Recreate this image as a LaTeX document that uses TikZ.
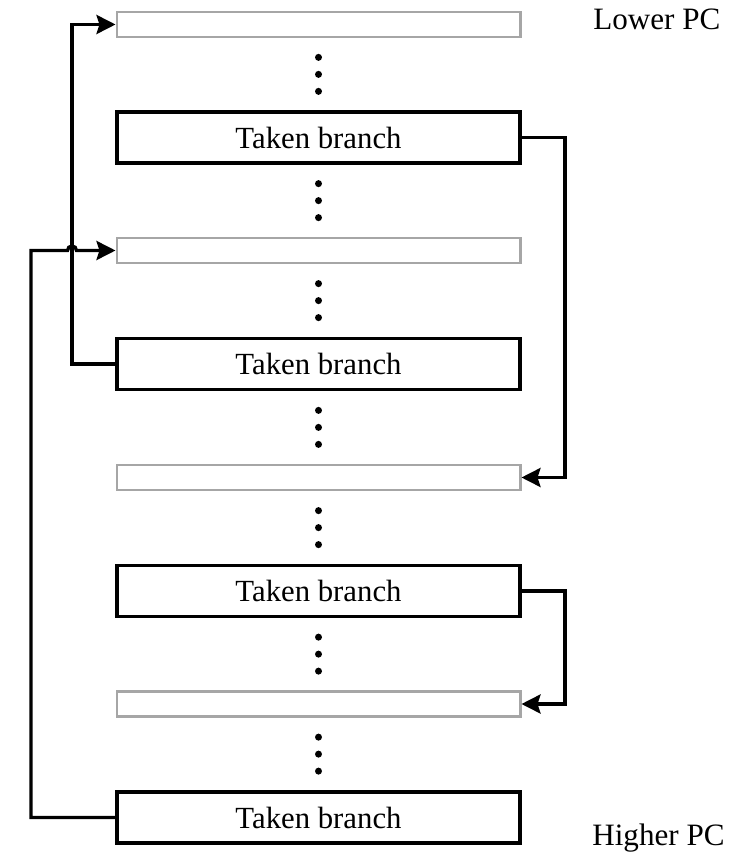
\documentclass[tikz,border=0pt]{standalone}
\usepackage{fontspec}
\setmainfont{Liberation Serif}
\usetikzlibrary{arrows.meta,calc}
\begin{document}
\begin{tikzpicture}[
    blk/.style={draw,line width=2pt,minimum width=8.06cm,minimum height=1.02cm,inner sep=0pt,font=\fontsize{17.5}{20}\selectfont},
    slot/.style={draw=gray!70,line width=1.7pt,minimum width=8.06cm,minimum height=0.5cm,inner sep=0pt},
    jmp/.style={line width=1.9pt,-{Stealth[length=0.38cm,width=0.38cm,inset=0.06cm]}},
    pc/.style={font=\fontsize{17.7}{20}\selectfont,anchor=base west,inner sep=0pt}]
    \useasboundingbox (0,0) rectangle (15.02,-17.04);
    % instruction slots
    \node[slot] (g1) at (6.37,-0.49) {};
    \node[blk] (tb1) at (6.37,-2.75) {Taken branch};
    \node[slot] (g2) at (6.37,-5.01) {};
    \node[blk] (tb2) at (6.37,-7.28) {Taken branch};
    \node[slot] (g3) at (6.37,-9.55) {};
    \node[blk] (tb3) at (6.37,-11.82) {Taken branch};
    \node[slot] (g4) at (6.37,-14.08) {};
    \node[blk] (tb4) at (6.37,-16.35) {Taken branch};
    % dots
    \foreach \a/\b in {g1/tb1,tb1/g2,g2/tb2,tb2/g3,g3/tb3,tb3/g4,g4/tb4}
      \fill ($(\a.south)!0.5!(\b.north)$) circle (0.07) ++(0,0.34) circle (0.07) ++(0,-0.68) circle (0.07);
    % PC labels
    \node[pc] (lower) at (11.86,-0.6) {Lower PC};
    \node[pc] (higher) at (11.84,-16.9) {Higher PC};
    % jump lanes
    \coordinate (laneA) at (1.44,0);
    \coordinate (laneB) at (0.62,0);
    \coordinate (laneC) at (11.3,0);
    \coordinate (hopL) at ($(laneA |- g2.west)+(-0.09,0)$);
    % backward jumps
    \draw[jmp] (tb2.west) -| (laneA |- g1.west) -- (g1.west);
    \draw[jmp] (tb4.west) -| (laneB |- g2.west) -- (hopL)
      arc[start angle=180,end angle=0,radius=0.09] -- (g2.west);
    % forward jumps
    \draw[jmp] (tb1.east) -| (laneC |- g3.east) -- (g3.east);
    \draw[jmp] (tb3.east) -| (laneC |- g4.east) -- (g4.east);
\end{tikzpicture}
\end{document}
